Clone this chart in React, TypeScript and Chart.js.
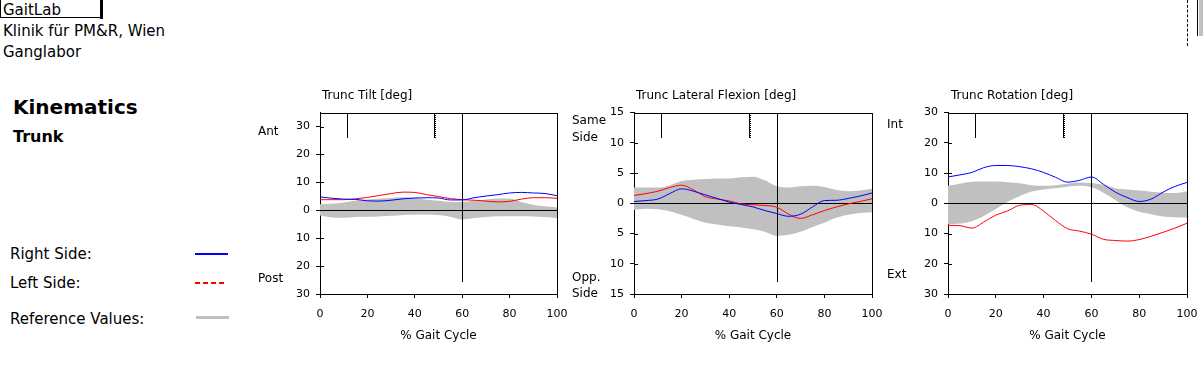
import React, { useEffect, useRef } from 'react';
import { Chart, registerables } from 'chart.js';

Chart.register(...registerables);

const FONT = "'DejaVu Sans', sans-serif";

// % gait cycle sample positions
const gaitPct = [0, 5, 10, 15, 20, 25, 30, 35, 40, 45, 50, 55, 60, 65, 70, 75, 80, 85, 90, 95, 100];

// Trunc Tilt
const tiltRight = [4.8, 4.3, 4.0, 3.9, 3.4, 3.3, 3.6, 4.1, 4.4, 4.5, 4.4, 3.7, 3.7, 4.5, 5.1, 5.6, 6.2, 6.4, 6.2, 6.0, 5.2];
const tiltLeft = [3.8, 3.8, 3.8, 4.1, 4.6, 5.3, 6.0, 6.5, 6.4, 5.6, 4.9, 4.2, 3.8, 3.6, 3.3, 3.0, 3.2, 4.0, 4.5, 4.5, 4.3];
const tiltRefHigh = [2.2, 2.3, 2.8, 3.5, 3.9, 4.2, 4.4, 4.7, 4.4, 3.8, 3.4, 3.0, 3.0, 3.4, 3.9, 4.2, 4.2, 3.0, 2.0, 1.4, 1.0];
const tiltRefLow = [-1.9, -2.6, -2.7, -2.4, -2.3, -2.2, -2.0, -1.7, -1.6, -1.5, -1.7, -2.3, -3.3, -2.8, -2.4, -2.1, -2.1, -2.1, -2.2, -2.4, -2.8];

// Trunc Lateral Flexion
const latRight = [0.3, 0.45, 0.7, 1.6, 2.4, 2.0, 1.4, 0.8, 0.2, -0.2, -0.6, -1.2, -1.7, -2.15, -1.8, -0.6, 0.45, 0.5, 0.8, 1.2, 1.7];
const latLeft = [1.3, 1.6, 2.0, 2.6, 3.0, 2.2, 1.1, 0.7, 0.4, -0.1, -0.25, -0.35, -0.65, -1.8, -2.5, -1.9, -1.2, -0.6, -0.1, 0.3, 0.75];
const latRefHigh = [2.6, 2.6, 2.6, 3.0, 3.7, 3.9, 4.0, 4.1, 4.1, 4.3, 4.4, 3.8, 2.8, 2.6, 2.8, 2.9, 2.7, 2.2, 2.0, 2.1, 2.4];
const latRefLow = [-1.1, -0.9, -1.0, -1.3, -1.9, -2.6, -3.2, -3.5, -3.8, -4.0, -4.3, -4.7, -5.4, -5.2, -4.7, -3.9, -3.2, -2.4, -1.9, -1.6, -1.5];

// Trunc Rotation
const rotRight = [8.7, 9.4, 10.2, 11.8, 12.5, 12.5, 12.1, 11.4, 10.2, 8.6, 7.0, 7.6, 8.7, 6.3, 3.7, 1.9, 0.6, 1.4, 3.7, 5.6, 6.9];
const rotLeft = [-7.3, -7.4, -8.2, -6.2, -3.9, -2.5, -0.65, -0.4, -2.6, -5.7, -8.4, -9.2, -10.2, -11.9, -12.3, -12.5, -12.0, -10.9, -9.6, -8.2, -6.6];
const rotRefHigh = [5.8, 6.5, 7.1, 7.2, 7.2, 7.0, 6.6, 6.0, 5.8, 6.0, 6.5, 6.9, 6.7, 6.1, 5.0, 4.6, 4.2, 3.8, 3.5, 3.4, 4.0];
const rotRefLow = [-6.9, -6.7, -5.9, -4.2, -1.9, 0.5, 2.4, 3.9, 4.6, 5.0, 5.5, 5.8, 5.3, 3.5, 1.1, -1.3, -2.8, -3.6, -4.4, -4.6, -4.7];

// tick labels
const xTickValues = [0, 20, 40, 60, 80, 100];
const tiltTickValues = [-30, -20, -10, 0, 10, 20, 30];
const latTickValues = [-15, -10, -5, 0, 5, 10, 15];
const rotTickValues = [-30, -20, -10, 0, 10, 20, 30];

// gait events (% gait cycle)
const eventOppFootOff = 11.5;
const eventOppFootContact = 48.2;
const eventFootOff = 60;

const markerPlugin = {
  id: 'gaitMarkers',
  afterDatasetDraw(chart: any, args: any) {
    if (args.index !== 2) return;
    const { ctx, chartArea } = chart;
    const { left, right, top, bottom } = chartArea;
    const h = bottom - top;
    const xs = chart.scales.x;
    const ys = chart.scales.y;
    const L = Math.round(left);
    const R = Math.round(right);
    const Tp = Math.round(top);
    const shortH = Math.round(h * 0.136);
    ctx.save();
    ctx.fillStyle = '#000';
    // zero line
    const y0 = Math.round(ys.getPixelForValue(0));
    ctx.fillRect(L, y0, R - L, 1);
    // opposite foot off
    const x1 = Math.round(xs.getPixelForValue(eventOppFootOff));
    ctx.fillRect(x1, Tp, 1, shortH);
    // opposite foot contact (solid + dotted column)
    const x2 = Math.round(xs.getPixelForValue(eventOppFootContact));
    ctx.fillRect(x2, Tp, 1, shortH);
    for (let yy = Tp; yy < Tp + shortH; yy += 2) ctx.fillRect(x2 + 1, yy, 1, 1);
    // foot off
    const x3 = Math.round(xs.getPixelForValue(eventFootOff));
    ctx.fillRect(x3, Tp, 1, Math.round(h * 0.934));
    ctx.restore();
  },
  afterDraw(chart: any) {
    const { ctx, chartArea } = chart;
    const { left, right, top, bottom } = chartArea;
    const ys = chart.scales.y;
    const L = Math.round(left);
    const R = Math.round(right);
    const Tp = Math.round(top);
    const B = Math.round(bottom);
    ctx.save();
    ctx.fillStyle = '#000';
    ctx.fillRect(L, Tp, R - L + 1, 1);
    ctx.fillRect(R, Tp, 1, B - Tp + 1);
    // inward parts of y ticks
    ys.ticks.forEach((tk: any) => {
      const py = Math.round(ys.getPixelForValue(tk.value));
      ctx.fillRect(L, py, 4, 1);
    });
    ctx.restore();
  },
};

type PanelProps = {
  left: number;
  width: number;
  yMin: number;
  yMax: number;
  yTicks: number[];
  right: number[];
  leftSide: number[];
  refHigh: number[];
  refLow: number[];
};

function Panel({ left, width, yMin, yMax, yTicks, right, leftSide, refHigh, refLow }: PanelProps) {
  const ref = useRef<HTMLCanvasElement>(null);
  const height = 250;
  useEffect(() => {
    if (!ref.current) return;
    const pts = (arr: number[]) => gaitPct.map((x, i) => ({ x, y: arr[i] }));
    const common = { pointRadius: 0, cubicInterpolationMode: 'monotone' as const };
    const chart = new Chart(ref.current, {
      type: 'line',
      data: {
        datasets: [
          { label: 'Right Side', data: pts(right), borderColor: '#0000ff', borderWidth: 1, fill: false, order: 1, ...common },
          { label: 'Left Side', data: pts(leftSide), borderColor: '#ff0000', borderWidth: 1, fill: false, order: 2, ...common },
          { label: 'Ref High', data: pts(refHigh), borderColor: 'rgba(0,0,0,0)', borderWidth: 1, backgroundColor: '#c0c0c0', fill: '+1', order: 3, ...common },
          { label: 'Ref Low', data: pts(refLow), borderColor: 'rgba(0,0,0,0)', borderWidth: 1, fill: false, order: 4, ...common },
        ],
      },
      options: {
        animation: false,
        responsive: false,
        maintainAspectRatio: false,
        events: [],
        layout: { padding: { top: 8, right: 22, left: 0, bottom: 0 } },
        plugins: { legend: { display: false }, tooltip: { enabled: false }, title: { display: false } },
        scales: {
          x: {
            type: 'linear',
            min: 0,
            max: 100,
            afterBuildTicks: (s: any) => {
              s.ticks = xTickValues.map((v) => ({ value: v }));
            },
            afterFit: (s: any) => {
              s.height = 56;
            },
            grid: { drawOnChartArea: false, drawTicks: true, tickLength: 4, color: '#000', lineWidth: 1 },
            border: { display: true, color: '#000', width: 1 },
            ticks: { color: '#000', font: { family: FONT, size: 11 }, padding: 10, maxRotation: 0, autoSkip: false },
          },
          y: {
            type: 'linear',
            min: yMin,
            max: yMax,
            afterBuildTicks: (s: any) => {
              s.ticks = yTicks.map((v) => ({ value: v }));
            },
            afterFit: (s: any) => {
              s.width = 40;
            },
            grid: { drawOnChartArea: false, drawTicks: true, tickLength: 4, color: '#000', lineWidth: 1 },
            border: { display: true, color: '#000', width: 1 },
            ticks: {
              color: '#000',
              font: { family: FONT, size: 11 },
              padding: 6,
              autoSkip: false,
              callback: (v: any) => String(Math.abs(Number(v))),
            },
          },
        },
      },
      plugins: [markerPlugin],
    });
    return () => chart.destroy();
  }, []);
  return (
    <canvas
      ref={ref}
      width={width}
      height={height}
      style={{ position: 'absolute', left, top: 100, width, height }}
    />
  );
}

function T({ x, y, size, bold, center, children }: any) {
  return (
    <div
      style={{
        position: 'absolute',
        left: x,
        top: y - size,
        height: size * 2,
        lineHeight: `${size * 2}px`,
        fontSize: size,
        fontFamily: FONT,
        fontWeight: bold ? 'bold' : 'normal',
        whiteSpace: 'nowrap',
        color: '#000',
        transform: center ? 'translateX(-50%)' : undefined,
      }}
    >
      {children}
    </div>
  );
}

export default function App() {
  return (
    <div style={{ position: 'absolute', left: 0, top: 0, width: 1204, height: 385, background: '#fff', overflow: 'hidden' }}>
      {/* header */}
      <div style={{ position: 'absolute', left: 0, top: 0, width: 100, height: 17, borderLeft: '1px solid #000', borderBottom: '1px solid #000' }} />
      <div style={{ position: 'absolute', left: 100, top: 0, width: 3, height: 19, background: '#000' }} />
      <T x={3} y={10} size={15}>GaitLab</T>
      <T x={3} y={31} size={15}>Klinik für PM&amp;R, Wien</T>
      <T x={3} y={52} size={15}>Ganglabor</T>
      <div style={{ position: 'absolute', left: 1187, top: 0, width: 0, height: 46, borderLeft: '1px dashed #000' }} />
      <div style={{ position: 'absolute', left: 1197, top: 0, width: 1, height: 36, background: '#000' }} />
      <div style={{ position: 'absolute', left: 1199, top: 0, width: 4, height: 36, background: '#c0c0c0' }} />

      <T x={13} y={107} size={20} bold>Kinematics</T>
      <T x={13} y={137} size={16} bold>Trunk</T>

      {/* legend */}
      <T x={10} y={254} size={15}>Right Side:</T>
      <T x={10} y={283} size={15}>Left Side:</T>
      <T x={10} y={319} size={15}>Reference Values:</T>
      <div style={{ position: 'absolute', left: 195, top: 253, width: 33, height: 2, background: '#0000ff' }} />
      <div
        style={{
          position: 'absolute',
          left: 195,
          top: 282,
          width: 30,
          height: 2,
          background: 'repeating-linear-gradient(to right, #ff0000 0px, #ff0000 5px, #ffffff 5px, #ffffff 8px)',
        }}
      />
      <div style={{ position: 'absolute', left: 196, top: 316, width: 33, height: 3, background: '#c0c0c0' }} />

      {/* panel 1 */}
      <Panel left={280} width={299} yMin={-30} yMax={35} yTicks={tiltTickValues} right={tiltRight} leftSide={tiltLeft} refHigh={tiltRefHigh} refLow={tiltRefLow} />
      <T x={322} y={94.5} size={12}>Trunc Tilt [deg]</T>
      <T x={258} y={131} size={12}>Ant</T>
      <T x={258} y={277.5} size={12}>Post</T>
      <T x={438.5} y={335} size={12} center>% Gait Cycle</T>

      {/* panel 2 */}
      <Panel left={594} width={300} yMin={-15} yMax={15} yTicks={latTickValues} right={latRight} leftSide={latLeft} refHigh={latRefHigh} refLow={latRefLow} />
      <T x={636} y={94.5} size={12}>Trunc Lateral Flexion [deg]</T>
      <T x={572} y={119.5} size={12}>Same</T>
      <T x={572} y={136.5} size={12}>Side</T>
      <T x={572} y={277} size={12}>Opp.</T>
      <T x={572} y={292.5} size={12}>Side</T>
      <T x={753} y={335} size={12} center>% Gait Cycle</T>

      {/* panel 3 */}
      <Panel left={908} width={301} yMin={-30} yMax={30} yTicks={rotTickValues} right={rotRight} leftSide={rotLeft} refHigh={rotRefHigh} refLow={rotRefLow} />
      <T x={951} y={94.5} size={12}>Trunc Rotation [deg]</T>
      <T x={887} y={123.5} size={12}>Int</T>
      <T x={887} y={273.5} size={12}>Ext</T>
      <T x={1067.5} y={335} size={12} center>% Gait Cycle</T>
    </div>
  );
}
